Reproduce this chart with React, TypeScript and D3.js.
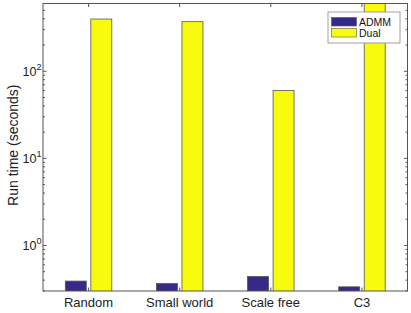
import { useEffect, useRef } from 'react';
import * as d3 from 'd3';

const categories = ['Random', 'Small world', 'Scale free', 'C3'];
const admmTimes = [0.39, 0.365, 0.44, 0.335];
const dualTimes = [398, 371, 60, 720];
const seriesNames = ['ADMM', 'Dual'];
const seriesColors = ['#352a87', '#f9fb0e'];
const yTickValues = [1, 10, 100];
const yTickExponents = ['0', '1', '2'];

export default function App() {
  const svgRef = useRef<SVGSVGElement>(null);

  const width = 411;
  const height = 313;
  const margin = { top: 3.5, right: 3.5, bottom: 22, left: 43 };

  useEffect(() => {
    if (!svgRef.current) return;
    const root = d3.select(svgRef.current);
    root.selectAll('*').remove();

    const innerWidth = width - margin.left - margin.right;
    const innerHeight = height - margin.top - margin.bottom;
    const font = "'Liberation Sans', Arial, sans-serif";
    const axisColor = '#555';

    const svg = root
      .attr('width', width)
      .attr('height', height)
      .append('g')
      .attr('transform', `translate(${margin.left},${margin.top})`);

    // scales: linear index axis like xlim [0.5, 4.5], log y axis
    const x = d3.scaleLinear().domain([0.5, categories.length + 0.5]).range([0, innerWidth]);
    const y = d3.scaleLog().domain([0.3, 600]).range([innerHeight, 0]);
    const unit = x(2) - x(1);
    const barW = unit * 0.23;
    const offsets = [-0.14, 0.14];

    svg
      .append('clipPath')
      .attr('id', 'plot-clip')
      .append('rect')
      .attr('width', innerWidth)
      .attr('height', innerHeight);

    const bars = svg.append('g').attr('clip-path', 'url(#plot-clip)');
    [admmTimes, dualTimes].forEach((vals, si) => {
      bars
        .selectAll(`.bar-${si}`)
        .data(vals)
        .enter()
        .append('rect')
        .attr('class', `bar-${si}`)
        .attr('x', (_, i) => x(i + 1 + offsets[si]) - barW / 2)
        .attr('y', (d) => y(d))
        .attr('width', barW)
        .attr('height', (d) => innerHeight - y(d) + 2)
        .attr('fill', seriesColors[si])
        .attr('stroke', '#555')
        .attr('stroke-width', 0.8);
    });

    // box
    svg
      .append('rect')
      .attr('width', innerWidth)
      .attr('height', innerHeight)
      .attr('fill', 'none')
      .attr('stroke', axisColor)
      .attr('stroke-width', 1);

    const tickLen = 3.5;
    const minorLen = 2;

    // x ticks on bottom and top
    categories.forEach((c, i) => {
      const px = x(i + 1);
      svg.append('line').attr('x1', px).attr('x2', px).attr('y1', innerHeight).attr('y2', innerHeight - tickLen).attr('stroke', axisColor);
      svg.append('line').attr('x1', px).attr('x2', px).attr('y1', 0).attr('y2', tickLen).attr('stroke', axisColor);
      svg
        .append('text')
        .attr('x', px)
        .attr('y', innerHeight + 16)
        .attr('text-anchor', 'middle')
        .attr('font-family', font)
        .attr('font-size', 13)
        .attr('fill', '#222')
        .text(c);
    });

    // y major and minor ticks, both sides
    const minors: number[] = [];
    [0.1, 1, 10, 100].forEach((dec) => {
      for (let k = 2; k <= 9; k++) {
        const v = dec * k;
        if (v >= 0.3 && v <= 600) minors.push(v);
      }
    });
    minors.forEach((v) => {
      svg.append('line').attr('x1', 0).attr('x2', minorLen).attr('y1', y(v)).attr('y2', y(v)).attr('stroke', axisColor);
      svg.append('line').attr('x1', innerWidth).attr('x2', innerWidth - minorLen).attr('y1', y(v)).attr('y2', y(v)).attr('stroke', axisColor);
    });
    yTickValues.forEach((v, i) => {
      svg.append('line').attr('x1', 0).attr('x2', tickLen).attr('y1', y(v)).attr('y2', y(v)).attr('stroke', axisColor);
      svg.append('line').attr('x1', innerWidth).attr('x2', innerWidth - tickLen).attr('y1', y(v)).attr('y2', y(v)).attr('stroke', axisColor);
      const t = svg
        .append('text')
        .attr('x', -1.5)
        .attr('y', y(v) + 5)
        .attr('text-anchor', 'end')
        .attr('font-family', font)
        .attr('font-size', 12.5)
        .attr('fill', '#222');
      t.append('tspan').text('10');
      t.append('tspan').attr('dy', -6).attr('font-size', 9).text(yTickExponents[i]);
    });

    // y label
    svg
      .append('text')
      .attr('transform', `translate(${-margin.left + 18},${innerHeight / 2 - 2}) rotate(-90)`)
      .attr('text-anchor', 'middle')
      .attr('font-family', font)
      .attr('font-size', 14)
      .attr('fill', '#222')
      .text('Run time (seconds)');

    // legend
    const lg = svg.append('g').attr('transform', `translate(${285},${8.5})`);
    lg.append('rect')
      .attr('width', 72)
      .attr('height', 31)
      .attr('fill', '#fff')
      .attr('stroke', '#888')
      .attr('stroke-width', 0.8);
    seriesNames.forEach((name, i) => {
      lg.append('rect')
        .attr('x', 3.5)
        .attr('y', 6 + i * 11 - 0.5)
        .attr('width', 25)
        .attr('height', 8.5)
        .attr('fill', seriesColors[i])
        .attr('stroke', '#555')
        .attr('stroke-width', 0.6);
      lg.append('text')
        .attr('x', 31)
        .attr('y', 13.8 + i * 11)
        .attr('font-family', font)
        .attr('font-size', 10.5)
        .attr('fill', '#111')
        .text(name);
    });
  }, []);

  return (
    <svg
      ref={svgRef}
      style={{ position: 'absolute', left: 0, top: 0, background: '#fff' }}
      width={width}
      height={height}
    />
  );
}
